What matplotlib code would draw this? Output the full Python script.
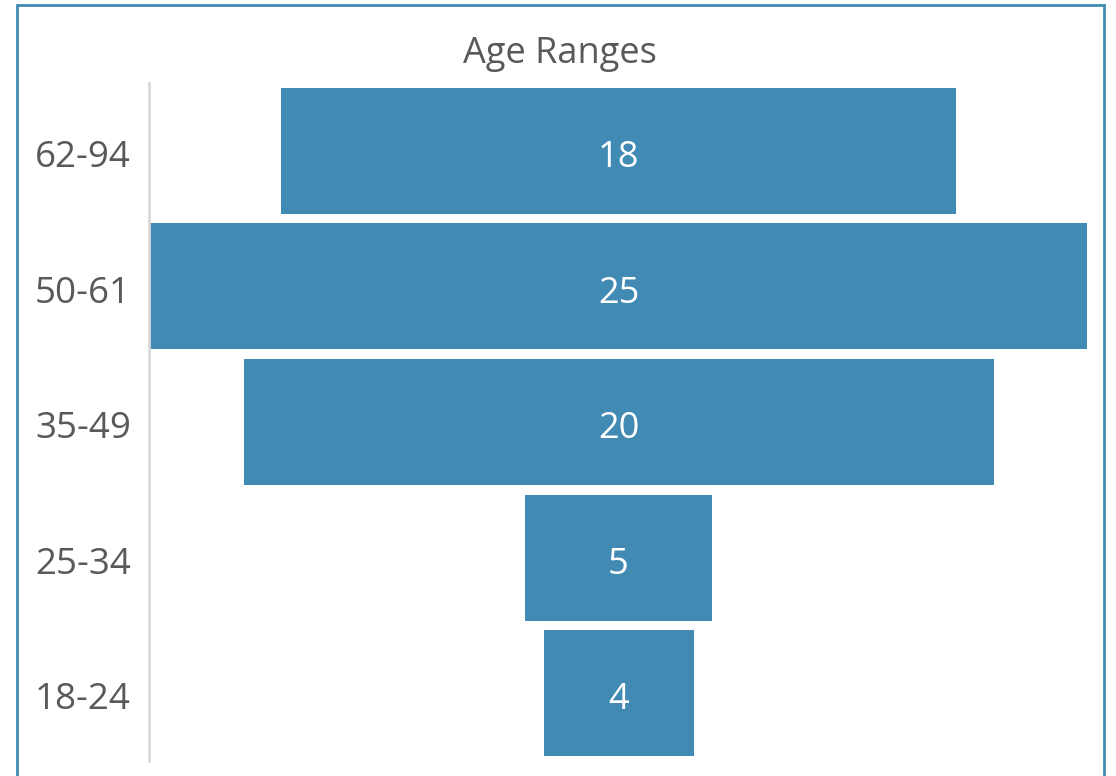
import matplotlib.pyplot as plt
from matplotlib.patches import Rectangle

# funnel data, bottom to top
ages = ['18-24', '25-34', '35-49', '50-61', '62-94']
counts = [4, 5, 20, 25, 18]

bar_color = '#418AB3'
text_color = '#595959'
plt.rcParams['font.family'] = ['Open Sans', 'DejaVu Sans']

W, H = 1116, 776
fig = plt.figure(figsize=(W / 100, H / 100), dpi=100)
ax = fig.add_axes([149 / W, 1 - 761 / H, (1088 - 149) / W, (761 - 83) / H])

# centred bars: start at -v/2
ax.barh(range(len(ages)), counts, left=[-c / 2 for c in counts],
        height=0.93, color=bar_color)
for i, c in enumerate(counts):
    ax.text(0, i - 0.02, str(c), ha='center', va='center_baseline',
            color='white', fontsize=26)

ax.set_xlim(-12.52, 12.52)
ax.set_ylim(-0.5, len(ages) - 0.5)
ax.set_yticks([i - 0.02 for i in range(len(ages))])
ax.set_yticklabels(ages, fontsize=26.5, color=text_color, va='center_baseline')
ax.tick_params(axis='y', length=0, pad=13)
ax.set_xticks([])
for s in ['top', 'right', 'bottom']:
    ax.spines[s].set_visible(False)
ax.spines['left'].set_color('#D9D9D9')
ax.spines['left'].set_linewidth(2)

fig.text(560 / W, 1 - 49 / H, 'Age Ranges', ha='center', va='center_baseline',
         fontsize=26, color=text_color)

# outer chart border
fig.add_artist(Rectangle((16.5 / W, -0.05), (1104 - 16.5) / W, 1.05 - 5.5 / H,
                         transform=fig.transFigure, fill=False,
                         edgecolor='#418AB3', linewidth=2))

fig.savefig('out.png', dpi=100)
